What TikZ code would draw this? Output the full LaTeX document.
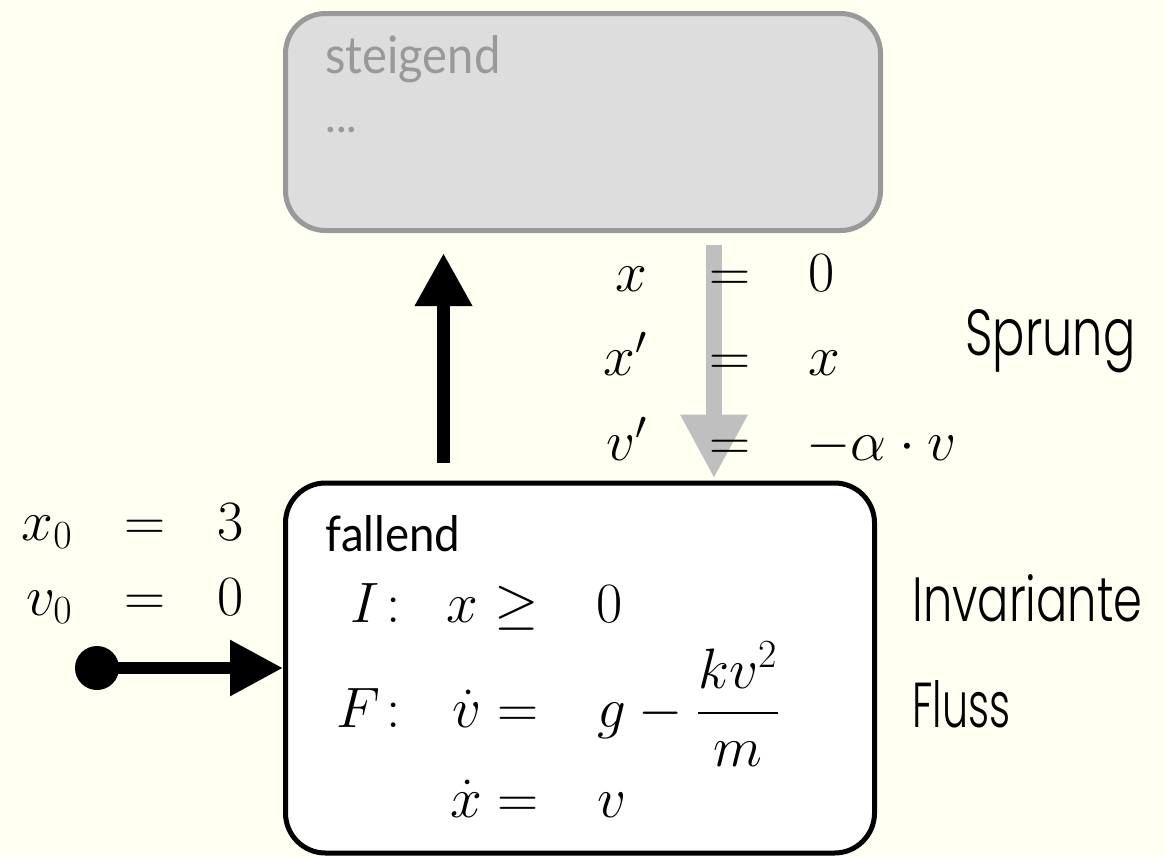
\documentclass[tikz,border=0pt]{standalone}
\usepackage{fix-cm}
\usepackage{fontspec}
\usepackage{graphicx}
\newfontfamily\gillfont{Lato}
\newfontfamily\futfont{Poppins Light}
\usetikzlibrary{arrows.meta}
\definecolor{bgcol}{RGB}{255,255,242}
\definecolor{boxgray}{RGB}{221,221,221}
\definecolor{bordergray}{RGB}{153,153,153}
\definecolor{arrgray}{RGB}{191,191,191}
\tikzset{
  mth/.style={inner sep=0pt, font=\fontsize{28.5}{34}\selectfont},
  lbl/.style={inner sep=0pt, font=\futfont},
  title/.style={inner sep=0pt, font=\gillfont},
  statebox/.style={rectangle, rounded corners=20pt, line width=2.5pt},
  blackarr/.style={line width=6.5pt, -{Triangle[length=26.5pt,width=27pt]}},
  grayarr/.style={arrgray, line width=8pt, -{Triangle[length=32pt,width=31.5pt]}},
  initarr/.style={line width=6pt, -{Triangle[length=26.5pt,width=26.5pt]}}
}
\begin{document}
\begin{tikzpicture}[x=0.5pt,y=-0.5pt]
\useasboundingbox (0,0) rectangle (1165,857);
\fill[bgcol] (0,0) rectangle (1165,857);

% boxes
\node[statebox, draw=bordergray, fill=boxgray, minimum width=297.5pt, minimum height=108.5pt] (top) at (583,122) {};
\node[statebox, draw=black, fill=white, minimum width=294.5pt, minimum height=185pt] (bot) at (580,668) {};

% connectors
\coordinate (ux) at (443.5,0);
\coordinate (gx) at (714,0);
\draw[blackarr, shorten <=9pt, shorten >=10pt] (bot.north -| ux) -- (top.south -| ux);
\draw[grayarr, shorten <=6pt, shorten >=1pt] (top.south -| gx) -- (bot.north -| gx);
\node[circle, fill=black, inner sep=0pt, minimum size=22pt] (init) at (97,668) {};
\draw[initarr] (init.center) -- (bot.west);

% box texts
\node[title, text=bordergray, anchor=base west] (tsteig) at (325,73) {\resizebox{87.5pt}{19pt}{steigend}};
\node[title, text=bordergray, anchor=base west] (tdots) at (325,132) {\resizebox{16pt}{!}{...}};
\node[title, anchor=base west] (tfall) at (325,551) {\resizebox{67.5pt}{18pt}{fallend}};

% jump equations
\node[mth, anchor=base east] (j1l) at (648,291) {$x$};
\node[mth, anchor=base] (j1e) at (730,291) {$=$};
\node[mth, anchor=base west] (j1r) at (808,291) {$0$};
\node[mth, anchor=base east] (j2l) at (648,375) {$x'$};
\node[mth, anchor=base] (j2e) at (730,375) {$=$};
\node[mth, anchor=base west] (j2r) at (808,375) {$x$};
\node[mth, anchor=base east] (j3l) at (648,460) {$v'$};
\node[mth, anchor=base] (j3e) at (730,460) {$=$};
\node[mth, anchor=base west] (j3r) at (806,460) {$-\alpha\cdot v$};

% initial values
\node[mth, anchor=base east] (i1l) at (73,540) {$x_0$};
\node[mth, anchor=base] (i1e) at (145,540) {$=$};
\node[mth, anchor=base west] (i1r) at (217,540) {$3$};
\node[mth, anchor=base east] (i2l) at (73,615) {$v_0$};
\node[mth, anchor=base] (i2e) at (145,615) {$=$};
\node[mth, anchor=base west] (i2r) at (217,615) {$0$};

% invariant and flow
\node[mth, anchor=base west] (inI) at (350,622) {$I$};
\node[mth, anchor=base east] (inc) at (401,622) {$:$};
\node[mth, anchor=base east] (inl) at (539,622) {$x \geq$};
\node[mth, anchor=base west] (inr) at (596,622) {$0$};
\node[mth, anchor=base west] (flF) at (336,727) {$F$};
\node[mth, anchor=base east] (flc) at (401,727) {$:$};
\node[mth, anchor=base east] (fl1l) at (539,727) {$\dot v =$};
\node[mth, anchor=base west] (fl1r) at (597,727) {$g - {\displaystyle {kv^2 \above 1.2pt m}}$};
\node[mth, anchor=base east] (fl2l) at (539,817) {$\dot x =$};
\node[mth, anchor=base west] (fl2r) at (597,817) {$v$};

% side labels
\node[lbl, anchor=base west] (lsprung) at (965,355) {\resizebox{85pt}{23pt}{Sprung}};
\node[lbl, anchor=base west] (linv) at (912,621) {\resizebox{115pt}{23.5pt}{Invariante}};
\node[lbl, anchor=base west] (lfluss) at (912,727) {\resizebox{49pt}{23.5pt}{Fluss}};
\end{tikzpicture}
\end{document}
